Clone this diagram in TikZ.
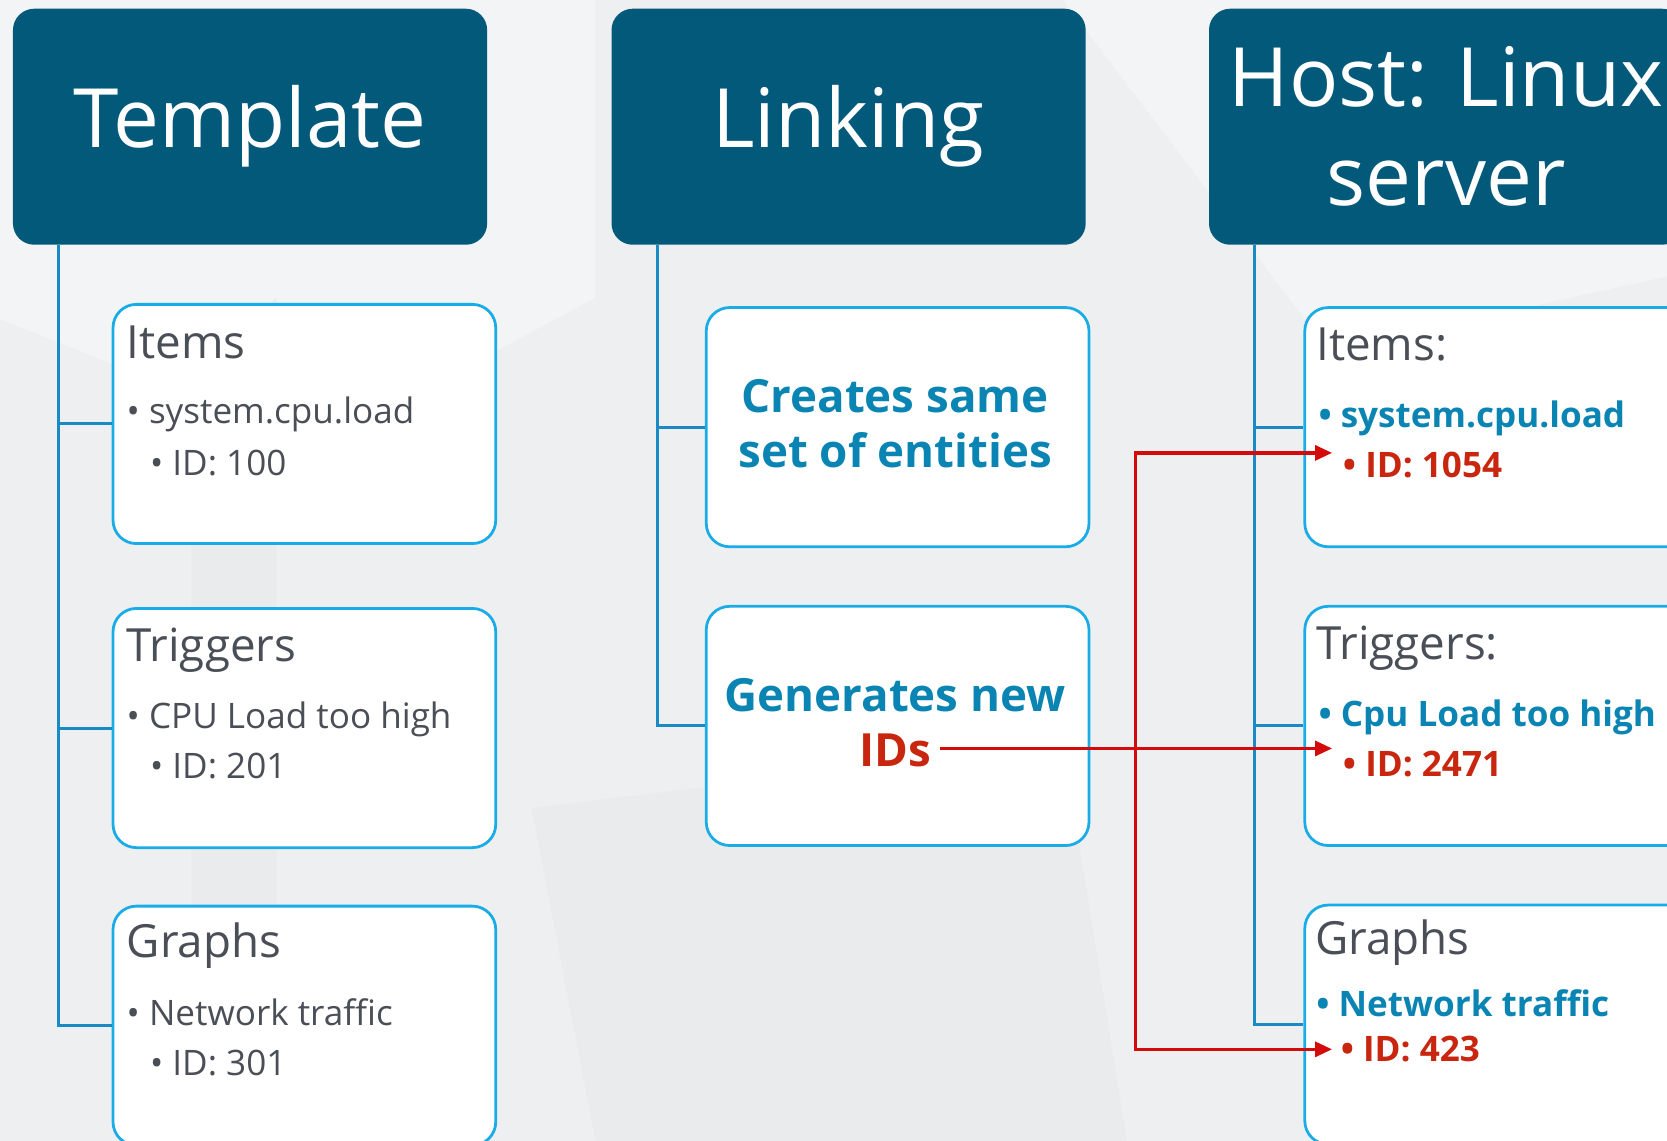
\documentclass[tikz,border=0pt]{standalone}
\usepackage{fontspec}
\setmainfont{Open Sans}
\usetikzlibrary{arrows.meta}
\definecolor{hdr}{HTML}{03597A}
\definecolor{bord}{HTML}{19ACE6}
\definecolor{tree}{HTML}{1A8AC4}
\definecolor{bluet}{HTML}{0A85B3}
\definecolor{redt}{HTML}{C8260E}
\definecolor{redl}{HTML}{D30B0B}
\definecolor{grayt}{HTML}{4A4E56}
\definecolor{bg}{HTML}{EEEFF0}
\definecolor{bglight}{HTML}{F3F4F5}
\definecolor{bgdark}{HTML}{EAEBEC}
\begin{document}
\begin{tikzpicture}[x=1pt,y=-1pt,
  hdrbox/.style={fill=hdr, rounded corners=20pt, minimum width=446pt, minimum height=222pt, anchor=north west, inner sep=0pt, text=white, align=center, font=\fontsize{77}{93}\selectfont},
  cbox/.style={draw=bord, line width=2.6pt, fill=white, rounded corners=22pt, minimum width=360pt, minimum height=225pt, anchor=north west, inner sep=0pt},
  treeline/.style={draw=tree, line width=2.8pt},
  redline/.style={draw=redl, line width=3.2pt},
  redarrow/.style={draw=redl, line width=3.2pt, -{Triangle[length=16pt,width=14pt]}},
  ttl/.style={anchor=base west, inner sep=0pt, text=grayt, font=\fontsize{43}{50}\selectfont},
  itm/.style={anchor=base west, inner sep=0pt, text=grayt, font=\fontsize{33}{40}\selectfont},
  bitm/.style={anchor=base west, inner sep=0pt, text=bluet, font=\fontsize{33}{40}\selectfont\bfseries},
  ritm/.style={anchor=base west, inner sep=0pt, text=redt, font=\fontsize{33}{40}\selectfont\bfseries},
  mid/.style={anchor=base, inner sep=0pt, text=bluet, font=\fontsize{43}{50}\selectfont\bfseries}
]
\useasboundingbox (0,0) rectangle (1568,1073);
\clip (0,0) rectangle (1568,1073);
% background
\fill[bg] (0,0) rectangle (1568,1073);
\fill[bglight] (0,0) -- (560,0) -- (560,280) -- (300,420) -- (0,300) -- cycle;
\fill[bglight] (1000,0) -- (1568,0) -- (1568,260) -- (1250,330) -- cycle;
\fill[bgdark] (500,760) -- (1000,700) -- (1060,1073) -- (560,1073) -- cycle;
\fill[bgdark] (180,360) -- (260,280) -- (260,900) -- (180,960) -- cycle;

% headers
\node[hdrbox] (tmpl) at (12,8) {Template};
\node[hdrbox] (link) at (575,8) {Linking};
\node[hdrbox] (host) at (1137,8) {Host: Linux\\server};

% template column
\node[cbox] (ti) at (105,285) {};
\node[cbox] (tt) at (105,571) {};
\node[cbox] (tg) at (105,851) {};
\node[ttl] (tiT) at (119,337) {Items};
\node[itm] (tiA) at (119,398) {\textbullet\ system.cpu.load};
\node[itm] (tiB) at (141,447) {\textbullet\ ID: 100};
\node[ttl] (ttT) at (119,622) {Triggers};
\node[itm] (ttA) at (119,685) {\textbullet\ CPU Load too high};
\node[itm] (ttB) at (141,732) {\textbullet\ ID: 201};
\node[ttl] (tgT) at (119,901) {Graphs};
\node[itm] (tgA) at (119,965) {\textbullet\ Network traffic};
\node[itm] (tgB) at (141,1012) {\textbullet\ ID: 301};

% linking column
\node[cbox] (lc) at (663,288) {};
\node[cbox] (lg) at (663,569) {};
\node[mid] (lcA) at (842,388) {Creates same};
\node[mid] (lcB) at (842,440) {set of entities};
\node[mid] (lgA) at (842,669) {Generates new};
\node[mid, text=redt] (ids) at (842,721) {IDs};

% host column
\node[cbox, minimum width=380pt] (hi) at (1226,288) {};
\node[cbox, minimum width=380pt] (ht) at (1226,569) {};
\node[cbox, minimum width=380pt] (hg) at (1226,850) {};
\node[ttl] (hiT) at (1238,339) {Items:};
\node[bitm] (hiA) at (1240,402) {\textbullet\ system.cpu.load};
\node[ritm] (hiB) at (1263,449) {\textbullet\ ID: 1054};
\node[ttl] (htT) at (1238,620) {Triggers:};
\node[bitm] (htA) at (1240,683) {\textbullet\ Cpu Load too high};
\node[ritm] (htB) at (1263,730) {\textbullet\ ID: 2471};
\node[ttl] (hgT) at (1237,898) {Graphs};
\node[bitm] (hgA) at (1238,956) {\textbullet\ Network traffic};
\node[ritm] (hgB) at (1261,998) {\textbullet\ ID: 423};

% tree lines
\coordinate (ta) at (55,230);
\coordinate (la) at (618,230);
\coordinate (ha) at (1180,230);
\draw[treeline] (ta) |- (ti.west);
\draw[treeline] (ta) |- (tt.west);
\draw[treeline] (ta) |- (tg.west);
\draw[treeline] (la) |- (lc.west);
\draw[treeline] (la) |- (lg.west);
\draw[treeline] (ha) |- (hi.west);
\draw[treeline] (ha) |- (ht.west);
\draw[treeline] (ha) |- (hg.west);

% red arrows
\coordinate (rtop) at (1068,426);
\coordinate (rmid) at (1068,704);
\coordinate (rbot) at (1068,987);
\coordinate (a1) at (1253,426);
\coordinate (a2) at (1253,704);
\coordinate (a3) at (1253,987);
\draw[redline] ([xshift=8pt]ids.east |- rmid) -- (rmid);
\draw[redline, line cap=rect] (rtop) -- (rbot);
\draw[redarrow] (rtop) -- (a1);
\draw[redarrow] (rmid) -- (a2);
\draw[redarrow] (rbot) -- (a3);
\end{tikzpicture}
\end{document}
